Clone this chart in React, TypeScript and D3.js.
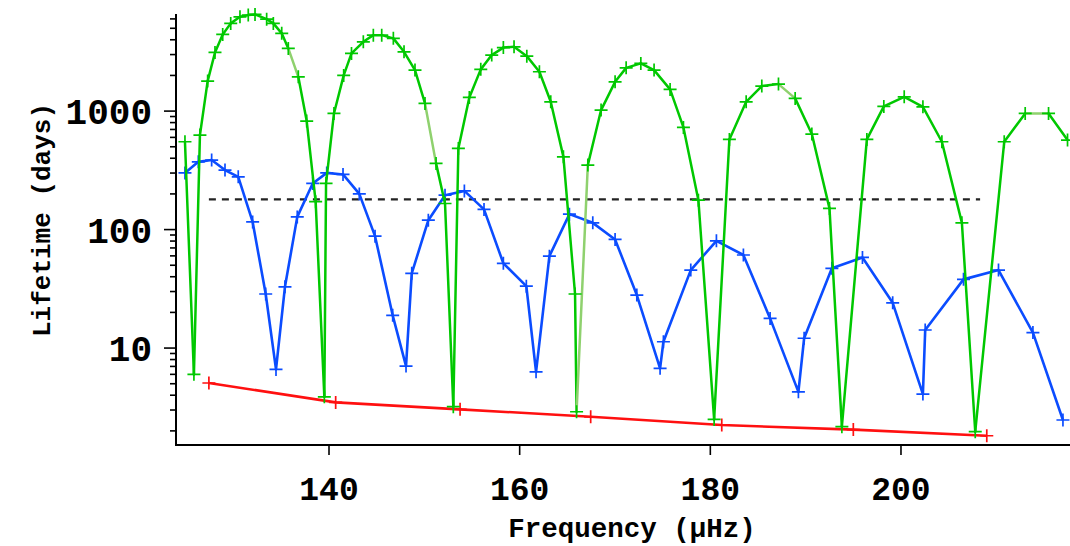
import React from "react";
import * as d3 from "d3";

// Mode frequencies (µHz) and lifetimes (days)
const greenFreq = [
  124.89, 125.83, 126.46, 127.27, 128.04, 128.85, 129.69, 130.66, 131.53, 132.24,
  133.46, 134.16, 135.04, 135.73, 136.78, 137.66, 138.6, 139.51, 139.69, 140.52,
  141.54, 142.36, 143.6, 144.65, 145.53, 146.75, 147.87, 149.02, 150.07, 151.23,
  152.17, 153.04, 153.57, 154.72, 155.92, 157.07, 158.29, 159.41, 160.75, 162.07,
  163.26, 164.59, 165.81, 165.97, 167.15, 168.54, 170.01, 171.17, 172.71, 174.1,
  175.78, 177.18, 178.75, 180.4, 182.0, 183.76, 185.4, 187.15, 188.9, 190.65,
  192.5, 193.8, 196.42, 198.2, 200.34, 202.3, 204.29, 206.39, 207.79, 210.83,
  213.03, 215.48, 217.47,
];
const greenLife = [
  551, 6.0, 627, 1792, 3126, 4440, 5500, 6250, 6460, 6550,
  5970, 5500, 4530, 3380, 1946, 824, 172, 3.88, 245, 955,
  2000, 3070, 3846, 4375, 4375, 4110, 3165, 2219, 1161, 362,
  166, 3.2, 484, 1305, 2250, 2970, 3435, 3490, 2910, 2148,
  1198, 411, 28.6, 2.9, 350, 1020, 1766, 2317, 2528, 2218,
  1524, 728, 177, 2.5, 577, 1198, 1626, 1690, 1280, 640,
  151, 2.17, 577, 1096, 1320, 1087, 551, 114, 1.97, 551,
  956, 956, 570,
];
// segments (by starting index) drawn in the paler green
const greenPaleSegments = [13, 28, 43, 57, 70];

const blueFreq = [
  124.89, 126.29, 127.69, 129.09, 130.48, 131.99, 133.36, 134.44, 135.38, 136.67,
  138.29, 139.76, 141.47, 143.18, 144.83, 146.68, 148.08, 148.68, 150.42, 152.17,
  154.2, 156.26, 158.29, 160.7, 161.72, 163.12, 165.22, 167.67, 170.01, 172.29,
  174.73, 175.08, 177.95, 180.64, 183.47, 186.27, 189.24, 189.84, 192.75, 195.96,
  199.13, 202.3, 202.54, 206.56, 210.23, 213.84, 216.99,
];
const blueLife = [
  301, 373, 386, 318, 279, 116, 28.6, 6.6, 32.9, 128,
  245, 301, 292, 200, 88, 18.9, 7.05, 42.7, 120, 195,
  212, 148, 51.9, 33.3, 6.3, 59.7, 135, 114, 82.6, 28,
  6.74, 11.3, 45.5, 80.4, 61, 17.8, 4.27, 12.1, 47.1, 58.2,
  24.1, 4.09, 14.2, 38, 45.5, 13.5, 2.47,
];

const redFreq = [127.4, 140.7, 153.75, 167.45, 181.2, 195.0, 209.0];
const redLife = [5.07, 3.48, 3.04, 2.63, 2.24, 2.05, 1.82];

const dashedFreq = [127.4, 208.3];
const dashedLife = 180;

const xTicks = [140, 160, 180, 200];
const yMajorTicks = [10, 100, 1000];
const xDomain = [123.95, 217.73];
const yDomain = [1.52, 6600];

const W = 1070;
const H = 546;
const left = 176;
const right = 1070;
const top = 14;
const bottom = 445;

const GREEN = "#00c800";
const GREEN_PALE = "#8fd16e";
const BLUE = "#0b4cff";
const RED = "#ff1010";
const FONT = "'Liberation Mono', 'Courier New', monospace";

type Pt = [number, number];

export default function App() {
  const x = d3.scaleLinear().domain(xDomain).range([left, right]);
  const y = d3.scaleLog().domain(yDomain).range([bottom, top]);

  const line = d3
    .line<Pt>()
    .x((d) => x(d[0]))
    .y((d) => y(d[1]));

  const green: Pt[] = greenFreq.map((f, i) => [f, greenLife[i]]);
  const blue: Pt[] = blueFreq.map((f, i) => [f, blueLife[i]]);
  const red: Pt[] = redFreq.map((f, i) => [f, redLife[i]]);

  const yMinor: number[] = [];
  for (const dec of [1, 10, 100, 1000]) {
    for (let k = 2; k <= 9; k++) {
      const v = k * dec;
      if (v >= yDomain[0] && v <= yDomain[1]) yMinor.push(v);
    }
  }

  const cross = (pts: Pt[], color: string, key: string, half = 6.5) =>
    pts.map((d, i) => {
      const cx = x(d[0]);
      const cy = y(d[1]);
      return (
        <path
          key={key + i}
          d={`M${cx - half},${cy}H${cx + half}M${cx},${cy - half}V${cy + half}`}
          stroke={color}
          strokeWidth={1.7}
          fill="none"
        />
      );
    });

  return (
    <svg
      width={W}
      height={H}
      style={{ position: "fixed", left: 0, top: 0, background: "#fff" }}
    >
      <defs>
        <clipPath id="plotArea">
          <rect x={left} y={0} width={right - left} height={bottom} />
        </clipPath>
      </defs>

      <g clipPath="url(#plotArea)">
        {/* reference level */}
        <path
          d={line([
            [dashedFreq[0], dashedLife],
            [dashedFreq[1], dashedLife],
          ])!}
          stroke="#222"
          strokeWidth={2.2}
          strokeDasharray="7,6"
          fill="none"
        />

        {/* red series */}
        <path d={line(red)!} stroke={RED} strokeWidth={2.6} fill="none" />
        {cross(red, RED, "r")}

        {/* blue series */}
        <path
          d={line(blue)!}
          stroke={BLUE}
          strokeWidth={2.6}
          fill="none"
          strokeLinejoin="round"
        />
        {cross(blue, BLUE, "b")}

        {/* green series, segment by segment */}
        {green.slice(0, -1).map((d, i) => (
          <path
            key={"gs" + i}
            d={line([d, green[i + 1]])!}
            stroke={greenPaleSegments.includes(i) ? GREEN_PALE : GREEN}
            strokeWidth={2.5}
            strokeLinecap="round"
            fill="none"
          />
        ))}
        {cross(green, GREEN, "g")}
      </g>

      {/* axes */}
      <line x1={left} x2={left} y1={top} y2={bottom} stroke="#000" strokeWidth={2} />
      <line x1={left - 1} x2={right} y1={bottom} y2={bottom} stroke="#000" strokeWidth={2} />

      {yMinor.map((v) => (
        <line key={"ym" + v} x1={left - 6} x2={left} y1={y(v)} y2={y(v)} stroke="#000" strokeWidth={1.6} />
      ))}
      {yMajorTicks.map((v) => (
        <g key={"yt" + v}>
          <line x1={left - 12} x2={left} y1={y(v)} y2={y(v)} stroke="#000" strokeWidth={1.6} />
          <text
            x={152}
            y={y(v)}
            dy="0.36em"
            textAnchor="end"
            fontFamily={FONT}
            fontWeight="bold"
            fontSize={36}
            fill="#000"
          >
            {v}
          </text>
        </g>
      ))}

      {xTicks.map((v) => (
        <g key={"xt" + v}>
          <line x1={x(v)} x2={x(v)} y1={bottom} y2={bottom + 10} stroke="#000" strokeWidth={1.6} />
          <text
            x={x(v)}
            y={500}
            textAnchor="middle"
            fontFamily={FONT}
            fontWeight="bold"
            fontSize={33}
            fill="#000"
          >
            {v}
          </text>
        </g>
      ))}

      <text
        x={632}
        y={537}
        textAnchor="middle"
        fontFamily={FONT}
        fontWeight="bold"
        fontSize={27.5}
        fill="#000"
      >
        Frequency (µHz)
      </text>
      <text
        transform="translate(50,220) rotate(-90)"
        textAnchor="middle"
        fontFamily={FONT}
        fontWeight="bold"
        fontSize={26}
        fill="#000"
      >
        Lifetime (days)
      </text>
    </svg>
  );
}
